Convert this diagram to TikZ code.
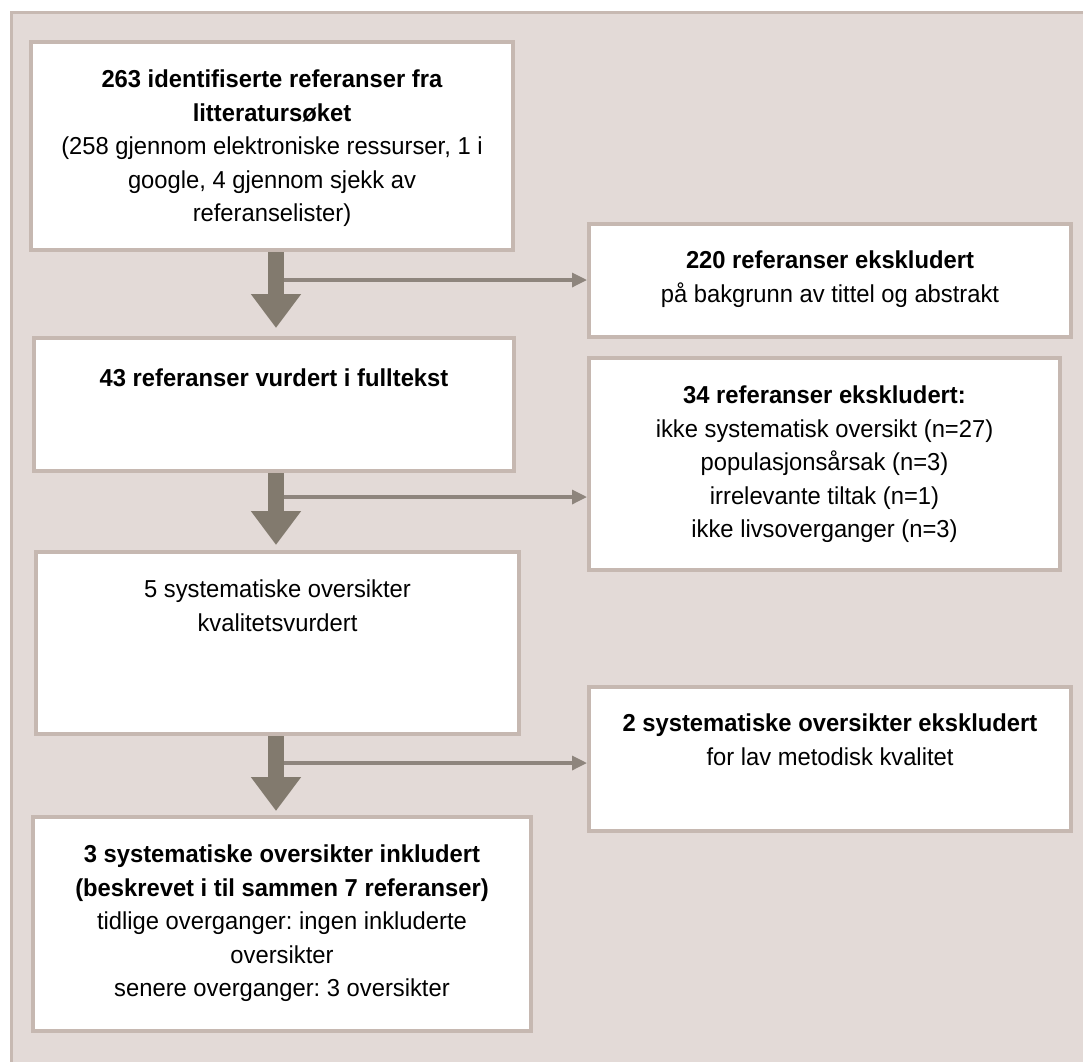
\documentclass[tikz,border=0pt]{standalone}
\usepackage{fontspec}
\setmainfont{Liberation Sans}[FakeStretch=0.97]
\usetikzlibrary{arrows.meta,calc}
\frenchspacing
\definecolor{panelfill}{HTML}{E3DAD7}
\definecolor{panelline}{HTML}{C7B9B2}
\definecolor{boxline}{HTML}{C6B8B1}
\definecolor{arrowcol}{HTML}{827A6E}
\definecolor{sidecol}{HTML}{8E857D}
\tikzset{
  box/.style={draw=boxline, fill=white, line width=4pt, rectangle, inner sep=0pt},
  boxtext/.style={anchor=north, align=center, inner sep=0pt, font=\fontsize{24.5}{33.5}\selectfont,
    execute at begin node={\rule{0pt}{20pt}}},
  bigarr/.style={draw=arrowcol, line width=16pt, -{Triangle[length=34pt,width=48pt]}, color=arrowcol},
  sidearr/.style={draw=sidecol, line width=3.3pt, -{Triangle[length=15pt,width=14pt]}, color=sidecol},
}
\begin{document}
\begin{tikzpicture}[x=1pt,y=-1pt]
\useasboundingbox (0,0) rectangle (1083,1061);
\fill[white] (0,0) rectangle (1083,1061);
% panel
\draw[panelline, fill=panelfill, line width=3pt] (11,12.5) rectangle (1100,1100);

% boxes
\node[box, minimum width=482pt, minimum height=208pt] (b1) at (272,146) {};
\node[box, minimum width=480pt, minimum height=133pt] (b2) at (274,404.5) {};
\node[box, minimum width=483pt, minimum height=182pt] (b3) at (277.5,643) {};
\node[box, minimum width=498pt, minimum height=214pt] (b4) at (282,924) {};
\node[box, minimum width=482pt, minimum height=113pt] (r1) at (830,280.5) {};
\node[box, minimum width=471pt, minimum height=212pt] (r2) at (824.5,464) {};
\node[box, minimum width=482pt, minimum height=144pt] (r3) at (830,759) {};

% texts (first baseline about 50 below the box top; the strut is 20 high)
\node[boxtext] (t1) at ($(b1.north)+(0,30)$) {\textbf{263 identifiserte referanser fra}\\\textbf{litteratursøket}\\(258 gjennom elektroniske ressurser, 1 i\\google, 4 gjennom sjekk av\\referanselister)};
\node[boxtext] (t2) at ($(b2.north)+(0,30)$) {\textbf{43 referanser vurdert i fulltekst}};
\node[boxtext] (t3) at ($(b3.north)+(0,30)$) {5 systematiske oversikter\\kvalitetsvurdert};
\node[boxtext] (t4) at ($(b4.north)+(0,30)$) {\textbf{3 systematiske oversikter inkludert}\\\textbf{(beskrevet i til sammen 7 referanser)}\\tidlige overganger: ingen inkluderte\\oversikter\\senere overganger: 3 oversikter};
\node[boxtext] (u1) at ($(r1.north)+(0,29)$) {\textbf{220 referanser ekskludert}\\på bakgrunn av tittel og abstrakt};
\node[boxtext] (u2) at ($(r2.north)+(0,30)$) {\textbf{34 referanser ekskludert:}\\ikke systematisk oversikt (n=27)\\populasjonsårsak (n=3)\\irrelevante tiltak (n=1)\\ikke livsoverganger (n=3)};
\node[boxtext] (u3) at ($(r3.north)+(0,29)$) {\textbf{2 systematiske oversikter ekskludert}\\for lav metodisk kvalitet};

% arrow axis and side-branch starts
\coordinate (ax) at (276,0);
\coordinate (s1) at (283,280);
\coordinate (s2) at (283,497);
\coordinate (s3) at (283,763);

% side arrows
\draw[sidearr] (s1) -- (s1 -| r1.west);
\draw[sidearr] (s2) -- (s2 -| r2.west);
\draw[sidearr] (s3) -- (s3 -| r3.west);

% main arrows
\draw[bigarr, shorten >=8pt] (b1.south -| ax) -- (b2.north -| ax);
\draw[bigarr, shorten >=5pt] (b2.south -| ax) -- (b3.north -| ax);
\draw[bigarr, shorten >=4pt] (b3.south -| ax) -- (b4.north -| ax);
\end{tikzpicture}
\end{document}
